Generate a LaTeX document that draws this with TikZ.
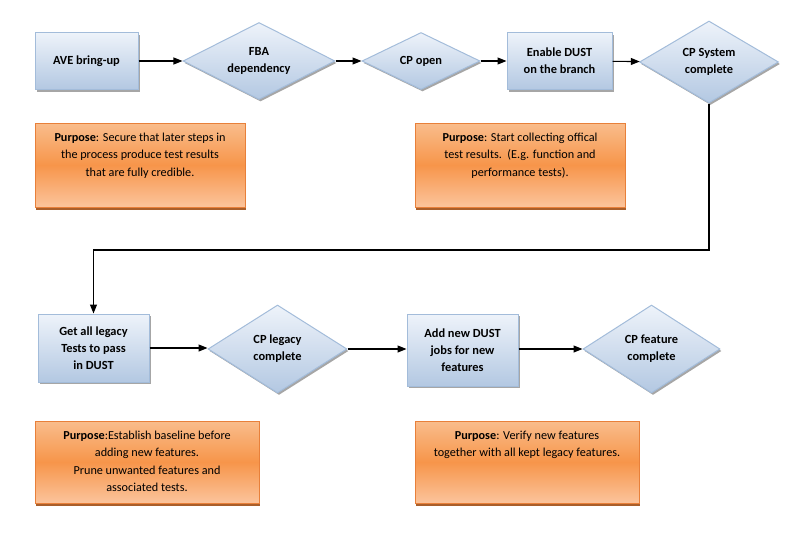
\documentclass[tikz,border=0pt]{standalone}
\usepackage{fontspec}
\setmainfont{Carlito}
\usetikzlibrary{shapes.geometric,shadows,positioning,arrows.meta}
\definecolor{boxtop}{HTML}{EEF3FA}
\definecolor{boxbot}{HTML}{B3C8E2}
\definecolor{boxline}{HTML}{A3BCDA}
\definecolor{purptop}{HTML}{F9BD8C}
\definecolor{purpmid}{HTML}{F7954A}
\definecolor{purpbot}{HTML}{FBC49C}
\definecolor{purpline}{HTML}{E8803A}
\definecolor{purpshade}{HTML}{A04E14}
\tikzset{
  stepbox/.style={draw=boxline, line width=1pt, top color=boxtop, bottom color=boxbot,
    align=center, inner sep=2pt, font=\fontsize{12.4}{17}\selectfont\bfseries,
    drop shadow={shadow xshift=1.5pt, shadow yshift=-2pt, fill=black, opacity=.35}},
  gate/.style={stepbox, diamond, aspect=2},
  purpose/.style={draw=purpline, line width=1pt, top color=purptop, bottom color=purpbot,
    middle color=purpmid,
    drop shadow={shadow xshift=1pt, shadow yshift=-2.5pt, fill=purpshade, opacity=.9}},
  purposetext/.style={align=center, inner sep=0pt, font=\fontsize{12.2}{17.5}\selectfont},
  link/.style={line width=1.1pt, -{Triangle[length=9pt,width=7pt]}}
}
\begin{document}
\begin{tikzpicture}[x=1pt,y=-1pt]
  \useasboundingbox (0,0) rectangle (790,546);
  % first row
  \node[stepbox, minimum width=103pt, minimum height=57pt] (ave) at (86.5,61) {AVE bring-up};
  \node[gate, minimum width=152pt, minimum height=77pt] (fba) at (259,61) {FBA\\dependency};
  \node[gate, minimum width=118pt, minimum height=57pt] (cpo) at (421,61) {CP open};
  \node[stepbox, minimum width=105pt, minimum height=57pt] (dust) at (559.5,61) {Enable DUST\\on the branch};
  \node[gate, minimum width=139pt, minimum height=82pt] (cps) at (709,62) {CP System\\complete};
  \draw[link] (ave) -- (fba);
  \draw[link] (fba) -- (cpo);
  \draw[link] (cpo) -- (dust);
  \draw[link] (dust) -- (cps);
  % purpose notes, first row
  \node[purpose, minimum width=210pt, minimum height=84pt] (p1) at (140,165) {};
  \node[purposetext, below=10pt of p1.north] (p1t) {\textbf{Purpose}: Secure that later steps in\\the process produce test results\\that are fully credible.};
  \node[purpose, minimum width=210pt, minimum height=84pt] (p2) at (520,165) {};
  \node[purposetext, below=10pt of p2.north] (p2t) {\textbf{Purpose}: Start collecting offical\\test results.\ \ (E.g. function and\\performance tests).};
  % second row
  \node[stepbox, minimum width=111pt, minimum height=68pt] (legacy) at (93.5,348) {Get all legacy\\Tests to pass\\in DUST};
  \node[gate, minimum width=139pt, minimum height=88pt] (cpl) at (277.5,349) {CP legacy\\complete};
  \node[stepbox, minimum width=111pt, minimum height=72pt] (newjobs) at (462.5,350) {Add new DUST\\jobs for new\\features};
  \node[gate, minimum width=137pt, minimum height=88pt] (cpf) at (651.5,349) {CP feature\\complete};
  \coordinate (bend) at (93.5,250);
  \draw[link] (cps.south) |- (bend) -- (legacy.north);
  \draw[link] (legacy.east) -- (legacy.east -| cpl.west);
  \draw[link] (cpl.east) -- (cpl.east -| newjobs.west);
  \draw[link] (newjobs.east |- cpf.west) -- (cpf.west);
  % purpose notes, second row
  \node[purpose, minimum width=224pt, minimum height=82pt] (p3) at (147,462) {};
  \node[purposetext, below=10pt of p3.north] (p3t) {\textbf{Purpose}:Establish baseline before\\adding new features.\\Prune unwanted features and\\associated tests.};
  \node[purpose, minimum width=224pt, minimum height=82pt] (p4) at (527,462) {};
  \node[purposetext, below=10pt of p4.north] (p4t) {\textbf{Purpose}: Verify new features\\together with all kept legacy features.};
\end{tikzpicture}
\end{document}
